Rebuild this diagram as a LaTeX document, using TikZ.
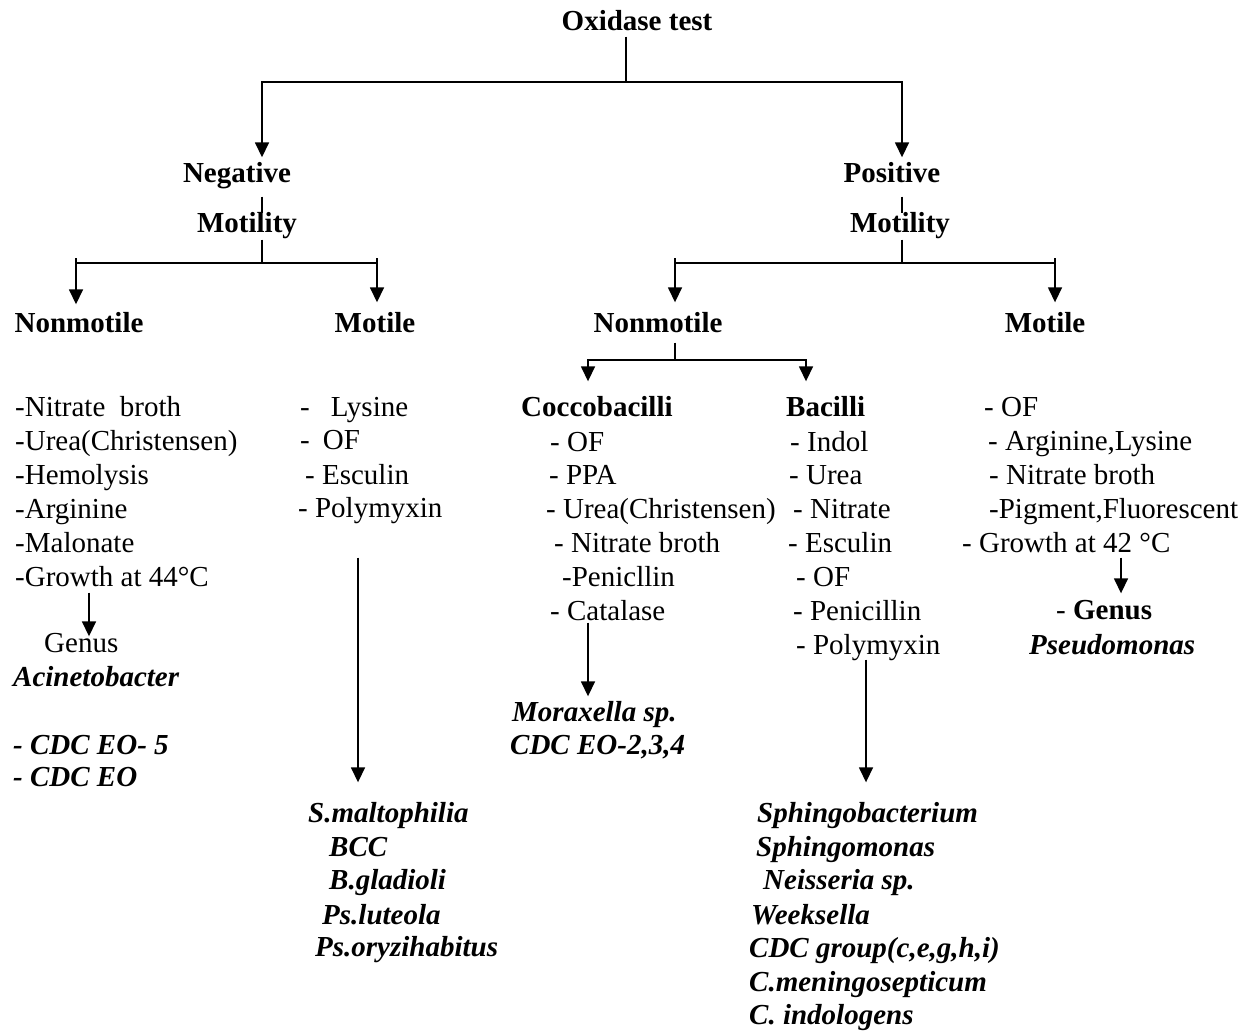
\documentclass[tikz,border=0pt]{standalone}
\usepackage{fontspec}
\setmainfont{Liberation Serif}
\usetikzlibrary{arrows.meta}
\begin{document}
\begin{tikzpicture}[x=1pt, y=-1pt, every node/.style={font=\fontsize{29}{34}\selectfont, inner sep=0pt, text height=19pt, text depth=0pt}]
  \tikzstyle{head} = [font=\fontsize{29}{34}\selectfont\bfseries]
  \tikzstyle{item} = [anchor=west]
  \tikzstyle{taxon} = [anchor=west, font=\fontsize{29}{34}\selectfont\bfseries\itshape]
  \tikzstyle{wire} = [line width=1.6pt]
  \tikzstyle{arr} = [wire, -{Triangle[width=14pt,length=15pt]}]
  \useasboundingbox (0,0) rectangle (1246,1030);

  % headings
  \node[head] (oxi) at (637,21) {Oxidase test};
  \node[head] (neg) at (237,173) {Negative};
  \node[head] (pos) at (892,173) {Positive};
  \node[head] (mtn) at (247,223) {Motility};
  \node[head] (mtp) at (900,223) {Motility};
  \node[head] (nm1) at (79,323) {Nonmotile};
  \node[head] (mo1) at (375,323) {Motile};
  \node[head] (nm2) at (658,323) {Nonmotile};
  \node[head] (mo2) at (1045,323) {Motile};
  \node[head, anchor=west] (cocco) at (521,407) {Coccobacilli};
  \node[head, anchor=west] (bac) at (786,407) {Bacilli};

  % test lists
  \foreach \y/\t [count=\i] in {407/{-Nitrate\ \ broth}, 441/{-Urea(Christensen)}, 475/{-Hemolysis},
      509/{-Arginine}, 543/{-Malonate}, 577/{-Growth at 44°C}}
    \node[item] (a\i) at (15,\y) {\t};
  \foreach \x/\y/\t [count=\i] in {300/407/{-\hspace{21pt}Lysine}, 300/440/{-\hspace{13pt}OF},
      305/475/{- Esculin}, 298/508/{- Polymyxin}}
    \node[item] (b\i) at (\x,\y) {\t};
  \foreach \x/\y/\t [count=\i] in {550/442/{- OF}, 549/475/{- PPA}, 546/509/{- Urea(Christensen)},
      554/543/{- Nitrate broth}, 562/577/{-Penicllin}, 550/611/{- Catalase}}
    \node[item] (c\i) at (\x,\y) {\t};
  \foreach \x/\y/\t [count=\i] in {790/442/{- Indol}, 789/475/{- Urea}, 793/509/{- Nitrate},
      788/543/{- Esculin}, 796/577/{- OF}, 793/611/{- Penicillin}, 796/645/{- Polymyxin}}
    \node[item] (d\i) at (\x,\y) {\t};
  \foreach \x/\y/\t [count=\i] in {984/407/{- OF}, 988/441/{- Arginine,Lysine}, 989/475/{- Nitrate broth},
      989/509/{-Pigment,Fluorescent}, 962/543/{- Growth at 42 °C}}
    \node[item] (e\i) at (\x,\y) {\t};

  % results
  \node[item] (genA) at (44,643) {Genus};
  \node[taxon] (acin) at (13,677) {Acinetobacter};
  \node[taxon] (eo5) at (13,745) {- CDC EO- 5};
  \node[taxon] (eo) at (13,777) {- CDC EO};
  \foreach \x/\y/\t [count=\i] in {308/813/{S.maltophilia}, 329/847/{BCC}, 329/880/{B.gladioli},
      322/915/{Ps.luteola}, 315/947/{Ps.oryzihabitus}}
    \node[taxon] (rb\i) at (\x,\y) {\t};
  \node[taxon] (rc1) at (512,712) {Moraxella sp.};
  \node[taxon] (rc2) at (510,745) {CDC EO-2,3,4};
  \foreach \x/\y/\t [count=\i] in {757/813/{Sphingobacterium}, 756/847/{Sphingomonas}, 763/880/{Neisseria sp.},
      751/915/{Weeksella}, 749/948/{CDC group(c,e,g,h,i)}, 749/982/{C.meningosepticum}, 749/1015/{C. indologens}}
    \node[taxon] (rd\i) at (\x,\y) {\t};
  \node[item] (genP) at (1056,610) {- \textbf{Genus}};
  \node[taxon] (pseu) at (1029,645) {Pseudomonas};

  % tree
  \coordinate (jo) at (626,82);
  \draw[wire, shorten <=6pt] (oxi.south -| jo) -- (jo);
  \draw[arr] (jo) -| ([xshift=25pt,yshift=6pt]neg.north);
  \draw[arr] (jo) -| ([xshift=10pt,yshift=6pt]pos.north);
  \draw[wire, shorten <=14pt] ([xshift=25pt]neg.south) -- ([xshift=15pt]mtn.north);
  \draw[wire, shorten <=14pt] ([xshift=10pt]pos.south) -- ([xshift=2pt]mtp.north);

  \coordinate (kn) at (262,263);
  \draw[wire, shorten <=7pt] (mtn.south -| kn) -- (kn);
  \draw[arr] (kn) -| ([xshift=-3pt,yshift=9pt]nm1.north);
  \draw[arr] (kn) -| ([xshift=2pt,yshift=11pt]mo1.north);
  \draw[wire] ([xshift=-3pt]nm1.north |- kn) -- ++(0,-5);
  \draw[wire] ([xshift=2pt]mo1.north |- kn) -- ++(0,-5);

  \coordinate (kp) at (902,263);
  \draw[wire, shorten <=7pt] (mtp.south -| kp) -- (kp);
  \draw[arr] (kp) -| ([xshift=17pt,yshift=11pt]nm2.north);
  \draw[arr] (kp) -| ([xshift=10pt,yshift=11pt]mo2.north);
  \draw[wire] ([xshift=17pt]nm2.north |- kp) -- ++(0,-5);
  \draw[wire] ([xshift=10pt]mo2.north |- kp) -- ++(0,-5);

  \coordinate (kc) at (675,360);
  \draw[wire, shorten <=10pt] ([xshift=17pt]nm2.south) -- (kc);
  \draw[arr] (kc) -| ([xshift=67pt,yshift=16pt]cocco.north west);
  \draw[arr] (kc) -| ([xshift=20pt,yshift=16pt]bac.north west);

  % lists to results
  \draw[arr] ([xshift=74pt,yshift=-6pt]a6.south west) -- ([xshift=45pt,yshift=-3pt]genA.north west);
  \draw[arr] ([xshift=60pt,yshift=-40pt]b4.south west) -- ([xshift=50pt,yshift=21pt]rb1.north west);
  \draw[arr] ([xshift=38pt,yshift=-2pt]c6.south west) -- ([xshift=76pt,yshift=6pt]rc1.north west);
  \draw[arr] ([xshift=70pt,yshift=-5pt]d7.south west) -- ([xshift=109pt,yshift=21pt]rd1.north west);
  \draw[arr] ([xshift=159pt,yshift=-5pt]e5.south west) -- ([xshift=65pt,yshift=7pt]genP.north west);
\end{tikzpicture}
\end{document}
